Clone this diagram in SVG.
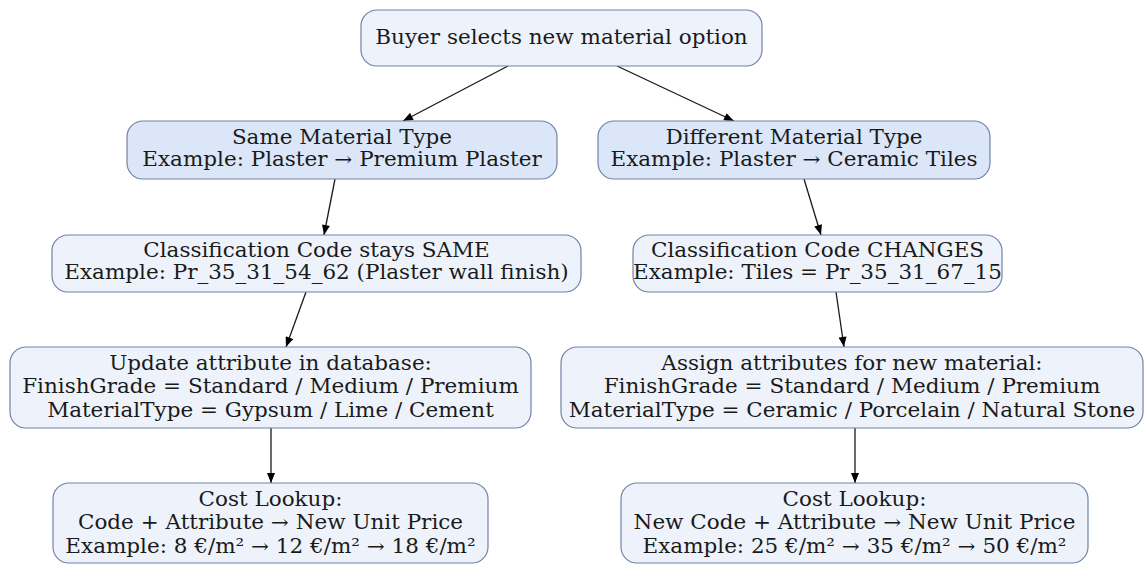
<svg xmlns="http://www.w3.org/2000/svg" width="1146" height="565" viewBox="0 0 1146 565">
<style>
.n rect{stroke:#7282a8;stroke-width:1.2}
.l rect{fill:#eef3fb}
.b rect{fill:#dbe7f8}
text{font-family:"DejaVu Serif",serif;font-size:20px;fill:#1a1a1a;text-anchor:middle}
.e line{stroke:#1a1a1a;stroke-width:1.3;marker-end:url(#ah)}
</style>
<defs>
<marker id="ah" viewBox="0 0 10 8" refX="10" refY="4" markerWidth="11" markerHeight="8" markerUnits="userSpaceOnUse" orient="auto">
<path d="M0,0 L10,4 L0,8 Z" fill="#000"/>
</marker>
</defs>
<rect width="1146" height="565" fill="#fff"/>
<g id="edges" class="e">
<line x1="508" y1="66" x2="403" y2="121"/>
<line x1="617" y1="66" x2="734" y2="121"/>
<line x1="335" y1="179" x2="324" y2="235"/>
<line x1="804" y1="179" x2="821" y2="235"/>
<line x1="306" y1="292" x2="286" y2="347"/>
<line x1="836" y1="292" x2="844" y2="347"/>
<line x1="271" y1="428" x2="271" y2="483"/>
<line x1="855" y1="428" x2="855" y2="483"/>
</g>
<g id="n_start" class="n l"><rect x="361" y="10" width="401" height="56" rx="16"/>
<text transform="scale(1.075 1)" x="522.33" y="44.5">Buyer selects new material option</text></g>
<g id="n_same" class="n b"><rect x="127" y="121" width="430" height="58" rx="16"/>
<text transform="scale(1.075 1)" x="318.14" y="144">Same Material Type</text><text transform="scale(1.075 1)" x="318.14" y="166">Example: Plaster → Premium Plaster</text></g>
<g id="n_diff" class="n b"><rect x="598" y="121" width="392" height="58" rx="16"/>
<text transform="scale(1.075 1)" x="738.60" y="144">Different Material Type</text><text transform="scale(1.075 1)" x="738.60" y="166">Example: Plaster → Ceramic Tiles</text></g>
<g id="n_codesame" class="n l"><rect x="52" y="235" width="529" height="57" rx="16"/>
<text transform="scale(1.075 1)" x="294.42" y="257">Classification Code stays SAME</text><text transform="scale(1.075 1)" x="294.42" y="279">Example: Pr_35_31_54_62 (Plaster wall finish)</text></g>
<g id="n_codechg" class="n l"><rect x="633" y="235" width="369" height="57" rx="16"/>
<text transform="scale(1.075 1)" x="760.47" y="257">Classification Code CHANGES</text><text transform="scale(1.075 1)" x="760.47" y="279">Example: Tiles = Pr_35_31_67_15</text></g>
<g id="n_update" class="n l"><rect x="10" y="347" width="521" height="81" rx="16"/>
<text transform="scale(1.075 1)" x="251.63" y="370">Update attribute in database:</text><text transform="scale(1.075 1)" x="251.63" y="393.5">FinishGrade = Standard / Medium / Premium</text><text transform="scale(1.075 1)" x="251.63" y="417">MaterialType = Gypsum / Lime / Cement</text></g>
<g id="n_assign" class="n l"><rect x="561" y="347" width="582" height="81" rx="16"/>
<text transform="scale(1.075 1)" x="792.56" y="370">Assign attributes for new material:</text><text transform="scale(1.075 1)" x="792.56" y="393.5">FinishGrade = Standard / Medium / Premium</text><text transform="scale(1.075 1)" x="792.56" y="417">MaterialType = Ceramic / Porcelain / Natural Stone</text></g>
<g id="n_cost1" class="n l"><rect x="53" y="483" width="435" height="80" rx="16"/>
<text transform="scale(1.075 1)" x="251.63" y="506">Cost Lookup:</text><text transform="scale(1.075 1)" x="251.63" y="529.5">Code + Attribute → New Unit Price</text><text transform="scale(1.075 1)" x="251.63" y="553">Example: 8 €/m² → 12 €/m² → 18 €/m²</text></g>
<g id="n_cost2" class="n l"><rect x="621" y="483" width="467" height="80" rx="16"/>
<text transform="scale(1.075 1)" x="794.88" y="506">Cost Lookup:</text><text transform="scale(1.075 1)" x="794.88" y="529.5">New Code + Attribute → New Unit Price</text><text transform="scale(1.075 1)" x="794.88" y="553">Example: 25 €/m² → 35 €/m² → 50 €/m²</text></g>
</svg>
